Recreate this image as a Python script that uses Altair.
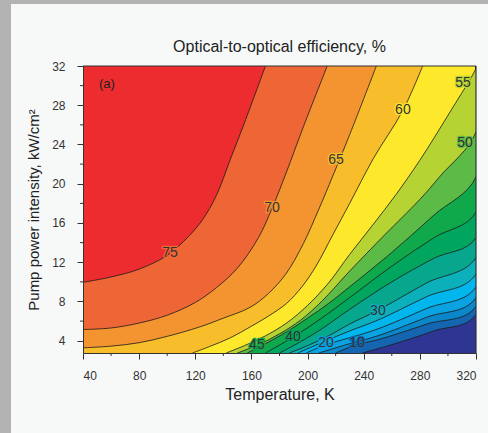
import altair as alt
import pandas as pd

FONT = "Liberation Sans"
T_MIN, T_MAX = 40, 320
P_MIN, P_MAX = 2.75, 32

# ---- contour lines (Temperature K, Pump kW/cm2) ----
c75_T = [40, 60, 80, 100, 115, 125, 135, 145, 155, 170]
c75_P = [9.95, 10.5, 11.3, 12.7, 14.6, 16.3, 18.8, 22.5, 26.2, 32]
c70_T = [40, 60, 80, 100, 120, 135, 150, 165, 175, 185, 197, 214]
c70_P = [5.14, 5.3, 5.8, 6.6, 7.9, 9.4, 11.4, 14.5, 17.6, 21.2, 25.8, 32]
c65_T = [40, 60, 80, 100, 123, 140, 159, 172, 185, 197, 208, 218, 230, 249]
c65_P = [3.28, 3.45, 3.8, 4.45, 5.4, 6.3, 7.4, 8.8, 10.9, 13.9, 17.4, 20.8, 25.0, 32]
c60_T = [118, 130, 145, 159, 172, 185, 196, 206, 218, 230, 247, 268, 282]
c60_P = [2.75, 3.4, 4.3, 5.4, 6.5, 7.8, 9.5, 11.6, 14.8, 18.0, 22.6, 27.5, 32]
c55_T = [142, 155, 170, 185, 200, 215, 230, 247, 263, 280, 301, 320]
c55_P = [2.75, 3.5, 4.5, 5.8, 7.6, 9.9, 12.8, 15.9, 18.9, 22.4, 27.2, 31.8]
c50_T = [150, 165, 180, 195, 210, 230, 255, 280, 294, 320]
c50_P = [2.75, 3.6, 4.7, 6.1, 8.0, 11.1, 14.8, 18.4, 20.7, 25.3]
c45_T = [157, 170, 185, 200, 215, 230, 260, 290, 320]
c45_P = [2.75, 3.7, 4.9, 6.3, 7.8, 9.5, 13.0, 16.8, 20.7]
c40_T = [170, 190, 210, 230, 260, 290, 320]
c40_P = [2.75, 4.4, 6.3, 8.4, 11.6, 14.5, 17.1]
c35_T = [180, 195, 210, 230, 260, 290, 320]
c35_P = [2.75, 3.9, 5.2, 7.2, 10.0, 12.4, 14.5]
c30_T = [187, 200, 215, 230, 250, 285, 320]
c30_P = [2.75, 3.5, 4.5, 5.7, 7.1, 9.9, 12.5]
c25_T = [193, 210, 230, 250, 285, 320]
c25_P = [2.75, 3.8, 5.0, 6.1, 8.5, 10.8]
c20_T = [199, 213, 230, 250, 285, 320]
c20_P = [2.75, 3.6, 4.3, 5.2, 7.3, 9.5]
c15_T = [208, 230, 250, 285, 320]
c15_P = [2.75, 3.7, 4.5, 6.4, 8.4]
c10_T = [220, 235, 250, 285, 320]
c10_P = [2.75, 3.6, 4.1, 5.7, 7.5]
c05_T = [239, 260, 290, 320]
c05_P = [2.75, 3.6, 5.0, 6.7]

levels = [5, 10, 15, 20, 25, 30, 35, 40, 45, 50, 55, 60, 65, 70, 75]
contours = {
    5: (c05_T, c05_P), 10: (c10_T, c10_P), 15: (c15_T, c15_P), 20: (c20_T, c20_P),
    25: (c25_T, c25_P), 30: (c30_T, c30_P), 35: (c35_T, c35_P), 40: (c40_T, c40_P),
    45: (c45_T, c45_P), 50: (c50_T, c50_P), 55: (c55_T, c55_P), 60: (c60_T, c60_P),
    65: (c65_T, c65_P), 70: (c70_T, c70_P), 75: (c75_T, c75_P),
}
base_color = "#2f3592"  # below 5 %
band_colors = ["#1565b1", "#0a86c9", "#0aa2e0", "#00b6ec", "#0bb0ba", "#07a78d",
               "#00a65d", "#0fa84b", "#5cba47", "#b6d334", "#fde82b", "#f7bd2b",
               "#f39431", "#ee6536", "#ec2c2f"]
# colour of the band just below each level (used behind the labels)
below_of = dict(zip(levels, [base_color] + band_colors[:-1]))

label_text = ["75", "70", "65", "60", "55", "50", "45", "40", "30", "20", "10"]
label_T = [102.0, 174.6, 220.2, 267.9, 310.7, 312.1, 163.9, 189.6, 250.1, 213.1, 235.2]
label_P = [12.98, 17.55, 22.44, 27.52, 30.27, 24.17, 3.52, 4.43, 7.08, 3.72, 3.82]

x_major = [40, 80, 120, 160, 200, 240, 280, 320]
x_minor = [60, 100, 140, 180, 220, 260, 300]
y_major = [4, 8, 12, 16, 20, 24, 28, 32]
y_minor = [6, 10, 14, 18, 22, 26, 30]

W, H = 393, 287

x_axis = alt.Axis(values=x_major, title="Temperature, K", tickSize=6, labelPadding=11,
                  titlePadding=5, grid=False, zindex=1, domainColor="#333", tickColor="#333",
                  labelColor="#333", titleColor="#222", labelFont=FONT, titleFont=FONT,
                  labelFontSize=12, titleFontSize=16, titleFontWeight="normal")
y_axis = alt.Axis(values=y_major, title="Pump power intensity, kW/cm²", tickSize=6,
                  labelPadding=12, titlePadding=10, grid=False, zindex=1, domainColor="#333",
                  tickColor="#333", labelColor="#333", titleColor="#222", labelFont=FONT,
                  titleFont=FONT, labelFontSize=12, titleFontSize=15, titleFontWeight="normal")
xs = alt.Scale(domain=[T_MIN, T_MAX], nice=False, zero=False)
ys = alt.Scale(domain=[P_MIN, P_MAX], nice=False, zero=False)


def X(f="T"):
    return alt.X(f"{f}:Q", scale=xs, axis=x_axis)


def Y(f="P"):
    return alt.Y(f"{f}:Q", scale=ys, axis=y_axis)


def contour_df(level):
    Ts, Ps = contours[level]
    rows = [{"T": t, "P": p, "i": i} for i, (t, p) in enumerate(zip(Ts, Ps))]
    if Ps[-1] < P_MAX:  # contour leaves through the right edge: close along it
        rows.append({"T": T_MAX, "P": P_MAX, "i": len(rows)})
    return pd.DataFrame(rows)


layers = []
for lev, col in zip(levels, band_colors):
    df = contour_df(lev)
    layers.append(
        alt.Chart(df).mark_area(orient="horizontal", interpolate="catmull-rom",
                                color=col, clip=True)
        .encode(x=X(), x2=alt.datum(T_MIN), y=Y())
    )
for lev in levels:
    df = contour_df(lev)
    layers.append(
        alt.Chart(df).mark_line(interpolate="catmull-rom", color="#1a1a1a",
                                strokeWidth=0.8, clip=True)
        .encode(x=X(), y=Y(), order="i:Q")
    )

lab_df = pd.DataFrame({"t": label_text, "T": label_T, "P": label_P,
                       "halo": [below_of[int(t)] for t in label_text]})
# halo in the local band colour breaks the contour line under each label
layers.append(
    alt.Chart(lab_df).mark_text(font=FONT, fontSize=14, strokeWidth=2.5,
                                strokeJoin="round", clip=True)
    .encode(x=X(), y=Y(), text="t:N",
            stroke=alt.Stroke("halo:N", scale=None),
            fill=alt.Fill("halo:N", scale=None))
)
layers.append(
    alt.Chart(lab_df).mark_text(font=FONT, fontSize=14, color="#333")
    .encode(x=X(), y=Y(), text="t:N")
)
layers.append(
    alt.Chart(pd.DataFrame({"t": ["(a)"], "T": [57.0], "P": [30.2]}))
    .mark_text(font=FONT, fontSize=13, color="#222").encode(x=X(), y=Y(), text="t:N")
)

one = pd.DataFrame({"a": [0]})
# frame (top, right)
layers.append(alt.Chart(one).mark_rule(color="#333", strokeWidth=1.2)
              .encode(x=alt.datum(T_MIN), x2=alt.datum(T_MAX), y=alt.datum(P_MAX)))
layers.append(alt.Chart(one).mark_rule(color="#333", strokeWidth=1.2)
              .encode(x=alt.datum(T_MAX), y=alt.datum(P_MIN), y2=alt.datum(P_MAX)))

# minor ticks
layers.append(alt.Chart(pd.DataFrame({"T": x_minor})).mark_rule(color="#333", clip=False)
              .encode(x=X(), y=alt.value(H), y2=alt.value(H + 3)))
layers.append(alt.Chart(pd.DataFrame({"P": y_minor})).mark_rule(color="#333", clip=False)
              .encode(y=Y(), x=alt.value(0), x2=alt.value(-3)))

# chart title
layers.append(alt.Chart(one).mark_text(font=FONT, fontSize=16, color="#222",
                                       baseline="alphabetic", align="center", clip=False)
              .encode(x=alt.value(W / 2), y=alt.value(-14.5),
                      text=alt.value("Optical-to-optical efficiency, %")))

# grey page strips (left and top)
layers.append(alt.Chart(one).mark_rect(color="#b3b3b3", clip=False)
              .encode(x=alt.value(-83), x2=alt.value(-72), y=alt.value(-66), y2=alt.value(367)))
layers.append(alt.Chart(one).mark_rect(color="#b3b3b3", clip=False)
              .encode(x=alt.value(-83), x2=alt.value(405), y=alt.value(-66), y2=alt.value(-62)))

chart = (
    alt.layer(*layers)
    .properties(
        width=W, height=H,
        autosize=alt.AutoSizeParams(type="none"),
        padding={"left": 83, "top": 66, "right": 12, "bottom": 80},
        background="#f7f9f9",
    )
    .configure_view(fill=base_color, stroke=None)
)

chart.save("out.html", embed_options={"renderer": "svg", "actions": False})
